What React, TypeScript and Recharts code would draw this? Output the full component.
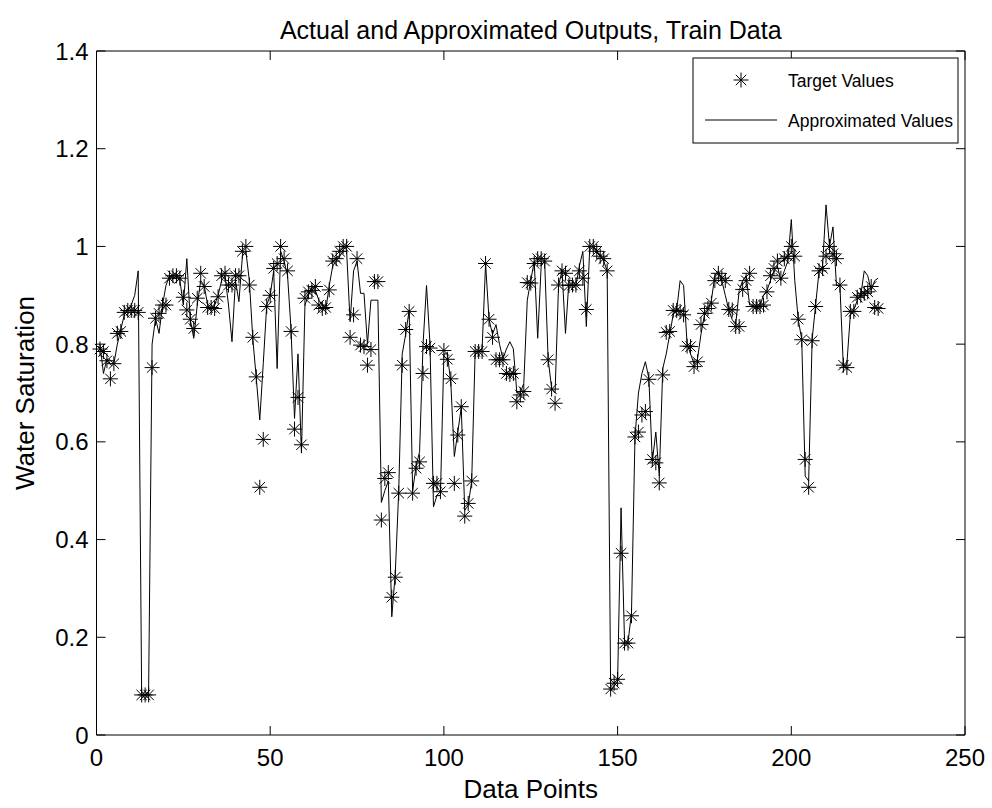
import { ComposedChart, Line, Scatter, XAxis, YAxis, ReferenceLine } from 'recharts';

// target values (stars), one per data point 1..225
const targetValues = [
  0.79, 0.785, 0.766, 0.729, 0.76, 0.822, 0.826, 0.865, 0.869, 0.869,
  0.869, 0.865, 0.082, 0.082, 0.082, 0.752, 0.853, 0.863, 0.88, 0.88,
  0.935, 0.94, 0.94, 0.935, 0.896, 0.87, 0.851, 0.832, 0.894, 0.945,
  0.918, 0.875, 0.875, 0.873, 0.897, 0.94, 0.945, 0.921, 0.921, 0.94,
  0.94, 0.99, 1.0, 0.921, 0.814, 0.733, 0.507, 0.605, 0.877, 0.9,
  0.955, 0.965, 1.0, 0.975, 0.95, 0.826, 0.626, 0.691, 0.594, 0.894,
  0.907, 0.91, 0.918, 0.88, 0.873, 0.875, 0.911, 0.97, 0.975, 0.99,
  1.0, 1.0, 0.814, 0.86, 0.975, 0.798, 0.795, 0.757, 0.789, 0.928,
  0.928, 0.44, 0.525, 0.537, 0.282, 0.323, 0.495, 0.757, 0.83, 0.867,
  0.495, 0.546, 0.559, 0.74, 0.795, 0.792, 0.515, 0.515, 0.498, 0.787,
  0.769, 0.729, 0.515, 0.614, 0.672, 0.448, 0.474, 0.52, 0.785, 0.785,
  0.785, 0.965, 0.851, 0.814, 0.768, 0.768, 0.768, 0.74, 0.738, 0.74,
  0.682, 0.696, 0.703, 0.926, 0.925, 0.965, 0.975, 0.975, 0.97, 0.768,
  0.708, 0.679, 0.921, 0.95, 0.945, 0.92, 0.921, 0.921, 0.95, 0.935,
  0.871, 1.0, 1.0, 0.99, 0.98, 0.975, 0.95, 0.094, 0.106, 0.114,
  0.372, 0.188, 0.188, 0.244, 0.61, 0.62, 0.655, 0.662, 0.728, 0.564,
  0.557, 0.516, 0.737, 0.824, 0.826, 0.869, 0.869, 0.867, 0.86, 0.796,
  0.795, 0.754, 0.764, 0.84, 0.863, 0.873, 0.884, 0.93, 0.945, 0.935,
  0.93, 0.871, 0.87, 0.836, 0.836, 0.912, 0.93, 0.945, 0.877, 0.877,
  0.877, 0.88, 0.907, 0.94, 0.955, 0.97, 0.935, 0.975, 0.98, 1.0,
  0.98, 0.851, 0.809, 0.564, 0.507, 0.807, 0.877, 0.95, 0.955, 0.98,
  1.0, 0.985, 0.975, 0.921, 0.757, 0.752, 0.867, 0.867, 0.896, 0.9,
  0.904, 0.907, 0.918, 0.875, 0.873,
];

// approximated values (line)
const approxValues = [
  0.8, 0.74, 0.77, 0.76, 0.76, 0.8, 0.83, 0.86, 0.87, 0.88,
  0.9, 0.95, 0.08, 0.08, 0.09, 0.8, 0.853, 0.822, 0.88, 0.92,
  0.94, 0.935, 0.94, 0.93, 0.88, 0.975, 0.85, 0.812, 0.88, 0.93,
  0.92, 0.88, 0.87, 0.88, 0.9, 0.93, 0.94, 0.88, 0.805, 0.93,
  0.887, 0.98, 0.99, 0.93, 0.81, 0.73, 0.645, 0.76, 0.88, 0.9,
  0.95, 0.75, 0.99, 0.97, 0.94, 0.83, 0.648, 0.78, 0.577, 0.88,
  0.9, 0.92, 0.91, 0.89, 0.88, 0.87, 0.92, 0.96, 0.97, 0.98,
  0.99, 0.99, 0.846, 0.95, 0.97, 0.904, 0.904, 0.8, 0.89, 0.89,
  0.89, 0.476, 0.5, 0.52, 0.242, 0.33, 0.5, 0.78, 0.82, 0.87,
  0.5, 0.55, 0.58, 0.8, 0.92, 0.8, 0.467, 0.49, 0.49, 0.78,
  0.78, 0.72, 0.57, 0.62, 0.67, 0.46, 0.47, 0.52, 0.785, 0.785,
  0.79, 0.965, 0.85, 0.82, 0.84, 0.8, 0.77, 0.79, 0.805, 0.79,
  0.7, 0.7, 0.72, 0.89, 0.93, 0.97, 0.812, 0.96, 0.97, 0.77,
  0.71, 0.7, 0.92, 0.95, 0.822, 0.93, 0.93, 0.92, 0.96, 0.99,
  0.836, 1.0, 1.0, 0.99, 0.98, 0.97, 0.95, 0.09, 0.1, 0.11,
  0.465, 0.19, 0.19, 0.25, 0.61, 0.7, 0.74, 0.764, 0.73, 0.56,
  0.62, 0.53, 0.75, 0.78, 0.82, 0.86, 0.87, 0.93, 0.92, 0.8,
  0.78, 0.76, 0.77, 0.82, 0.86, 0.87, 0.89, 0.94, 0.95, 0.93,
  0.9, 0.87, 0.85, 0.84, 0.91, 0.93, 0.94, 0.88, 0.88, 0.87,
  0.88, 0.9, 0.91, 0.93, 0.95, 0.96, 0.93, 0.95, 0.97, 1.055,
  0.93, 0.85, 0.81, 0.53, 0.52, 0.81, 0.88, 0.95, 0.96, 1.085,
  1.0, 1.04, 0.92, 0.92, 0.75, 0.76, 0.86, 0.87, 0.89, 0.9,
  0.95, 0.94, 0.91, 0.93, 0.935,
];

const xTicks = [0, 50, 100, 150, 200, 250];
const yTicks = [0, 0.2, 0.4, 0.6, 0.8, 1, 1.2, 1.4];
const titleText = 'Actual and Approximated Outputs, Train Data';
const xLabel = 'Data Points';
const yLabel = 'Water Saturation';
const legendLabels = ['Target Values', 'Approximated Values'];

const W = 992;
const H = 808;
const PLOT = { left: 96.5, top: 51, right: 965, bottom: 735 };
const PW = PLOT.right - PLOT.left;
const PH = PLOT.bottom - PLOT.top;
const FONT = '"Liberation Sans", Arial, Helvetica, sans-serif';
const TICK = 9;

const rows = targetValues.map((t, i) => ({ point: i + 1, target: t, approx: approxValues[i] }));

function starPath(cx: number, cy: number) {
  const a = 7.5;
  const d = 5.2;
  return `M${cx - a},${cy}H${cx + a}M${cx},${cy - a}V${cy + a}M${cx - d},${cy - d}L${cx + d},${cy + d}M${cx - d},${cy + d}L${cx + d},${cy - d}`;
}

function Star(props: any) {
  const { cx, cy } = props;
  if (cx == null || cy == null) return null;
  return <path d={starPath(cx, cy)} stroke="#000" strokeWidth={1} fill="none" />;
}

function XTick(props: any) {
  const { x, y, payload } = props;
  return (
    <g>
      <line x1={x} y1={y} x2={x} y2={y - TICK} stroke="#000" />
      <line x1={x} y1={y - PH} x2={x} y2={y - PH + TICK} stroke="#000" />
      <text x={x} y={y + 31} textAnchor="middle" fontSize={24} fontFamily={FONT} fill="#000">
        {payload.value}
      </text>
    </g>
  );
}

function YTick(props: any) {
  const { x, y, payload } = props;
  return (
    <g>
      <line x1={x} y1={y} x2={x + TICK} y2={y} stroke="#000" />
      <line x1={x + PW} y1={y} x2={x + PW - TICK} y2={y} stroke="#000" />
      <text x={x - 8} y={y + 8.5} textAnchor="end" fontSize={24} fontFamily={FONT} fill="#000">
        {payload.value}
      </text>
    </g>
  );
}

export default function App() {
  const lg = { left: 693, top: 58, right: 958, bottom: 143 };
  const midY = (PLOT.top + PLOT.bottom) / 2;
  return (
    <div style={{ position: 'relative', width: W, height: H, background: '#fff' }}>
      <style>{'body{margin:0;background:#fff}'}</style>
      <ComposedChart
        width={W}
        height={H}
        data={rows}
        margin={{ top: PLOT.top, right: W - PLOT.right, bottom: H - PLOT.bottom - 60, left: PLOT.left - 60 }}
      >
        <XAxis
          dataKey="point"
          type="number"
          domain={[0, 250]}
          ticks={xTicks}
          interval={0}
          height={60}
          tickSize={0}
          tickMargin={0}
          tickLine={false}
          axisLine={{ stroke: '#000' }}
          tick={<XTick />}
        />
        <YAxis
          type="number"
          domain={[0, 1.4]}
          ticks={yTicks}
          interval={0}
          width={60}
          tickSize={0}
          tickMargin={0}
          tickLine={false}
          axisLine={{ stroke: '#000' }}
          tick={<YTick />}
        />
        <ReferenceLine x={250} stroke="#000" />
        <ReferenceLine y={1.4} stroke="#000" />
        <Line
          type="linear"
          dataKey="approx"
          stroke="#000"
          strokeWidth={1}
          dot={false}
          activeDot={false}
          isAnimationActive={false}
        />
        <Scatter dataKey="target" shape={<Star />} isAnimationActive={false} />
      </ComposedChart>
      <svg
        width={W}
        height={H}
        style={{ position: 'absolute', left: 0, top: 0, pointerEvents: 'none' }}
        fontFamily={FONT}
      >
        <text x={(PLOT.left + PLOT.right) / 2} y={39} textAnchor="middle" fontSize={25} fill="#000">
          {titleText}
        </text>
        <text x={(PLOT.left + PLOT.right) / 2} y={798} textAnchor="middle" fontSize={26} fill="#000">
          {xLabel}
        </text>
        <text
          x={34}
          y={midY}
          textAnchor="middle"
          fontSize={26}
          fill="#000"
          transform={`rotate(-90 34 ${midY})`}
        >
          {yLabel}
        </text>
        <rect
          x={lg.left}
          y={lg.top}
          width={lg.right - lg.left}
          height={lg.bottom - lg.top}
          fill="#fff"
          stroke="#000"
        />
        <path d={starPath(741, 80)} stroke="#000" strokeWidth={1} fill="none" />
        <text x={788} y={86.5} fontSize={17.5} fill="#000">{legendLabels[0]}</text>
        <line x1={705} y1={120} x2={777} y2={120} stroke="#000" />
        <text x={788} y={126.5} fontSize={17.5} fill="#000">{legendLabels[1]}</text>
      </svg>
    </div>
  );
}
